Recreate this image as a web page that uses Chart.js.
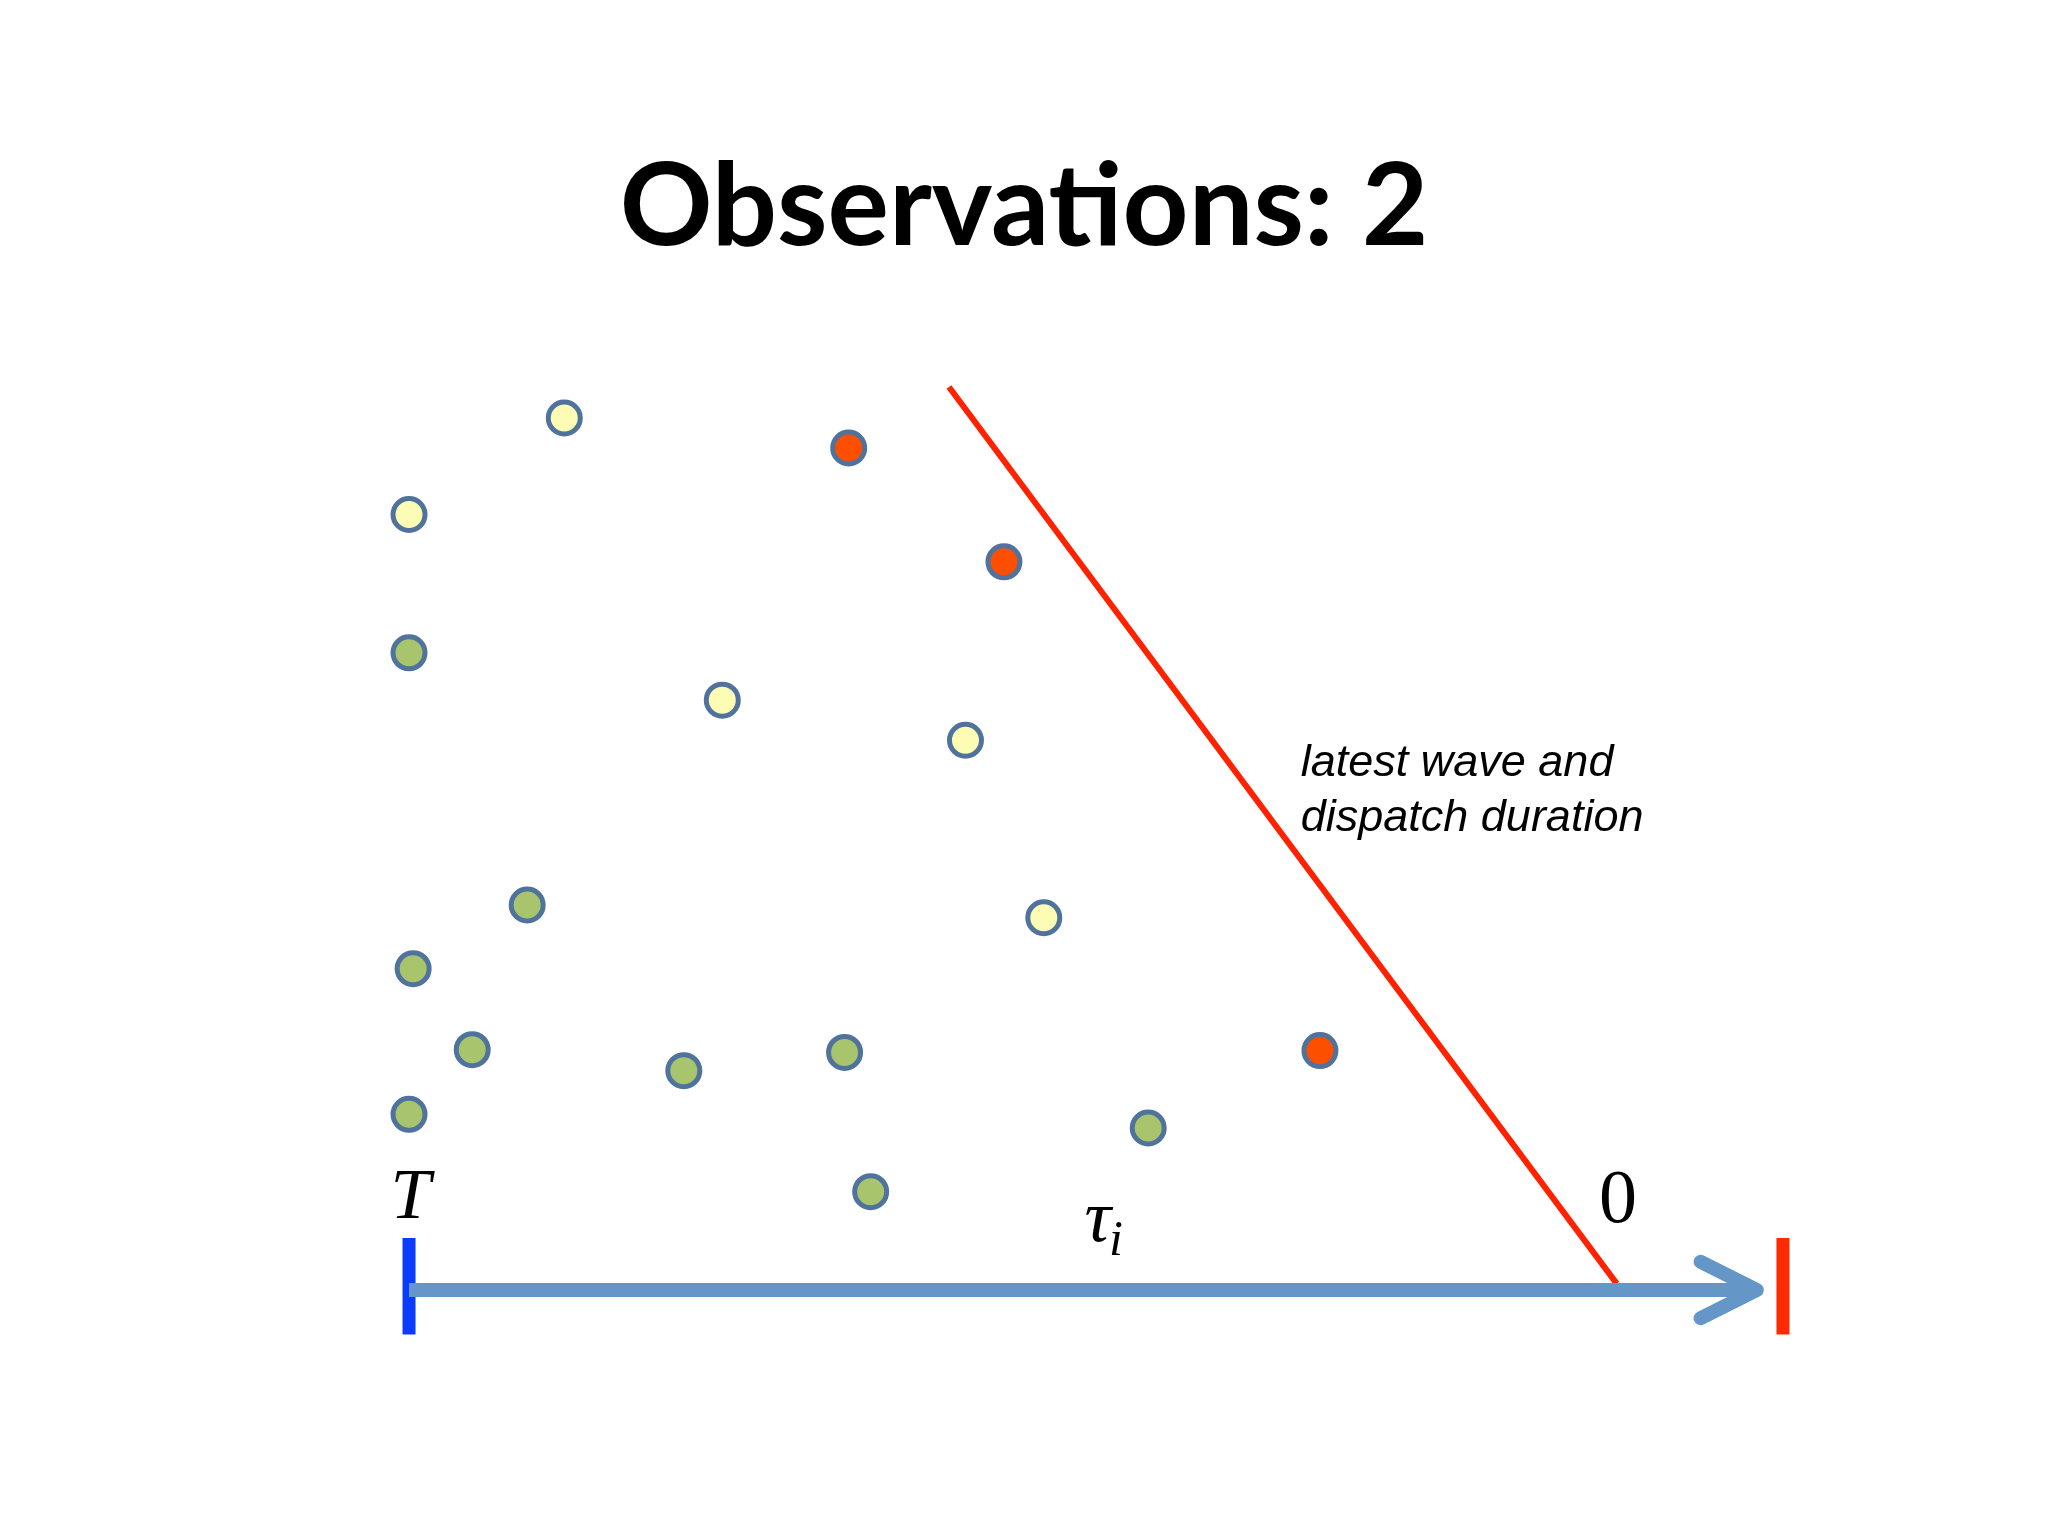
<!DOCTYPE html>
<html>
<head>
<meta charset="utf-8">
<script src="https://cdn.jsdelivr.net/npm/chart.js@4/dist/chart.umd.min.js"></script>
<style>
  html, body { margin: 0; padding: 0; background: #fff; }
  #wrap { width: 2048px; height: 1536px; }
</style>
</head>
<body>
<div id="wrap"><canvas id="obsChart"></canvas></div>
<script>
// observations, x = position along the time axis (T at 0), y = height above axis
const yellowX = [11.3, 0, 22.8, 40.5, 46.2];
const yellowY = [95.8, 85.2, 64.8, 60.4, 40.9];
const orangeX = [32.0, 43.3, 66.3];
const orangeY = [92.5, 80.0, 26.3];
const greenX = [0, 8.6, 0.3, 4.6, 20.0, 31.7, 0, 53.8, 33.6];
const greenY = [70.0, 42.3, 35.3, 26.4, 24.1, 26.1, 19.3, 17.8, 10.8];

// the "latest wave and dispatch duration" line
const waveX = [39.3, 87.9];
const waveY = [99.2, 0.7];

// time axis
const axisX = [0, 98.1];
const headX = [94.0, 98.1, 94.0];
const headY = [3.1, 0, -3.1];
const tickY = [5.7, -4.9];
const startTick = 0;
const endTick = 100;

const toPts = (xs, ys) => xs.map((x, i) => ({ x: x, y: ys[i] }));

const dotStyle = (fill) => ({
    type: 'scatter',
    backgroundColor: fill,
    borderColor: '#50739e',
    borderWidth: 5,
    pointRadius: 16,
    pointHoverRadius: 16,
    pointStyle: 'circle'
});

const segStyle = (color, width) => ({
    type: 'line',
    borderColor: color,
    borderWidth: width,
    pointRadius: 0,
    fill: false,
    tension: 0
});

// texts placed in data units
const annotations = [
    { text: 'latest wave and', x: 64.9, y: 57.8, font: 'italic 45px "Liberation Sans"', align: 'left' },
    { text: 'dispatch duration', x: 64.9, y: 51.8, font: 'italic 45px "Liberation Sans"', align: 'left' },
    { text: 'T', x: 0.1, y: 10.0, font: 'italic 72px "Liberation Serif"', align: 'center' },
    { text: '0', x: 88.0, y: 9.7, font: '76px "Liberation Serif"', align: 'center' }
];

const textPlugin = {
    id: 'texts',
    afterDatasetsDraw(chart) {
        const { ctx, scales: { x, y } } = chart;
        ctx.save();
        ctx.fillStyle = '#000';
        ctx.textBaseline = 'middle';
        annotations.forEach(a => {
            ctx.font = a.font;
            ctx.textAlign = a.align;
            ctx.fillText(a.text, x.getPixelForValue(a.x), y.getPixelForValue(a.y));
        });
        // tau with subscript i
        const tx = x.getPixelForValue(50.8);
        const ty = y.getPixelForValue(6.6);
        ctx.textAlign = 'right';
        ctx.font = 'italic 74px "Liberation Serif"';
        ctx.fillText('\u03C4', tx + 4, ty - 8);
        ctx.textAlign = 'left';
        ctx.font = 'italic 50px "Liberation Serif"';
        ctx.fillText('i', tx + 2, ty + 12);
        ctx.restore();
    }
};

new Chart(document.getElementById('obsChart'), {
    data: {
        datasets: [
            Object.assign({ data: toPts(axisX, [0, 0]) }, segStyle('#6596c8', 14)),
            Object.assign({ data: toPts(headX, headY), borderCapStyle: 'round', borderJoinStyle: 'round' }, segStyle('#6596c8', 14)),
            Object.assign({ data: toPts([startTick, startTick], tickY) }, segStyle('#0a3cff', 13)),
            Object.assign({ data: toPts([endTick, endTick], tickY) }, segStyle('#ff2a00', 13)),
            Object.assign({ data: toPts(waveX, waveY) }, segStyle('#ff2200', 6)),
            Object.assign({ data: toPts(yellowX, yellowY) }, dotStyle('#fdfcb4')),
            Object.assign({ data: toPts(orangeX, orangeY) }, dotStyle('#fe4e00')),
            Object.assign({ data: toPts(greenX, greenY) }, dotStyle('#a8c46c'))
        ]
    },
    options: {
        responsive: true,
        maintainAspectRatio: false,
        animation: false,
        clip: false,
        layout: { autoPadding: false, padding: { left: 0, right: 0, top: 0, bottom: 246 } },
        plugins: {
            legend: { display: false },
            tooltip: { enabled: false },
            title: {
                display: true,
                text: 'Observations: 2',
                color: '#000',
                font: { family: 'Lato', weight: 'bold', size: 115, lineHeight: 1.25 },
                padding: { top: 136, bottom: 100 }
            }
        },
        scales: {
            x: { type: 'linear', min: -29.77, max: 119.29, display: false },
            y: { type: 'linear', min: 0, max: 100, display: false }
        }
    },
    plugins: [textPlugin]
});
</script>
</body>
</html>
